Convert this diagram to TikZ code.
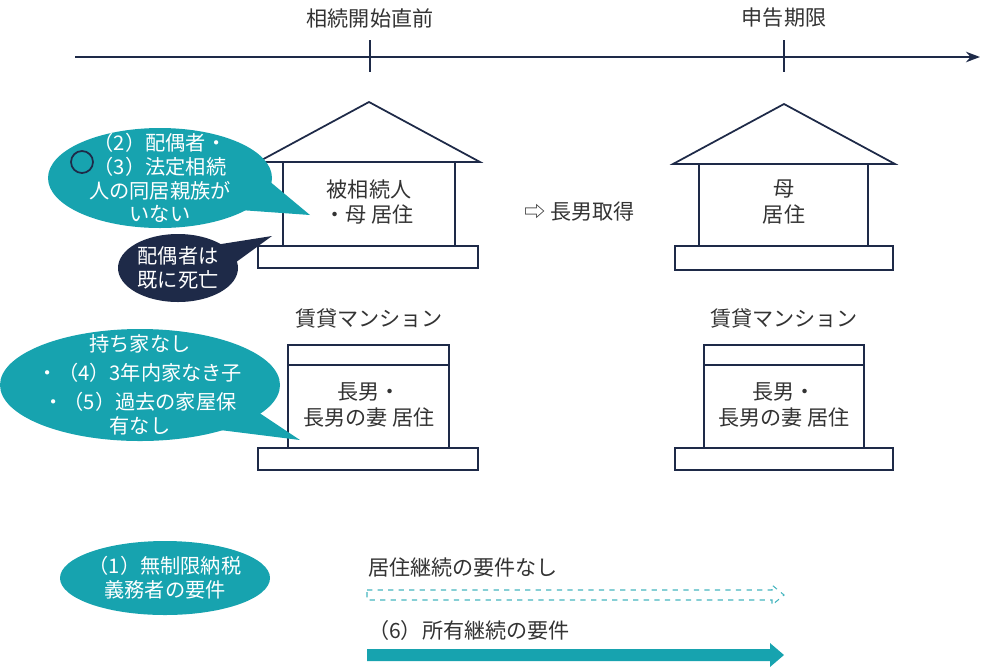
\documentclass[tikz,border=0pt]{standalone}
\usepackage{fontspec}
\setmainfont{Noto Sans CJK JP}
\usepackage{xcolor}
\usetikzlibrary{positioning, arrows.meta, calc}
\definecolor{Navy}{HTML}{1E2A48}
\definecolor{Teal}{HTML}{17A3AF}
\tikzset{
    line/.style={draw=Navy, line width=1pt},
    lbl/.style={font=\fontsize{12}{14.5}\selectfont, text=black!80, align=center},
    note/.style={font=\fontsize{11.5}{13.5}\selectfont, text=white, align=center},
}
\begin{document}
\begin{tikzpicture}[x=0.02cm, y=-0.02cm]
            \useasboundingbox (0,0) rectangle (993,667);

            % time line
            \draw[line, -{Stealth[length=8pt]}] (75,57) -- (980,57);
            \draw[line] (370,40) -- (370,72);
            \draw[line] (784,40) -- (784,72);
            \node[lbl] (start) at (370,18) {相続開始直前};
            \node[lbl] (limit) at (784,18) {申告期限};

            % houses
            \draw[line] (258,162) -- (369,102) -- (480,162) -- cycle;
            \draw[line] (283,162) rectangle (455,246);
            \draw[line] (258,246) rectangle (478,268);
            \node[lbl] (home1) at (369,202) {被相続人\\・母 居住};

            \draw[line] (673,164) -- (784,104) -- (895,164) -- cycle;
            \draw[line] (699,164) rectangle (868,246);
            \draw[line] (675,246) rectangle (893,270);
            \node[lbl] (home2) at (784,202) {母\\居住};

            \node[lbl] (get) at (580,212) {⇨ 長男取得};

            % rented flats
            \foreach \cx/\lx/\rx/\bl/\br in {369/288/449/258/478, 784/704/864/675/893}
            {
                \node[lbl] at (\cx,318) {賃貸マンション};
                \draw[line] (\lx,345) rectangle (\rx,365);
                \draw[line] (\lx,365) rectangle (\rx,448);
                \draw[line] (\bl,448) rectangle (\br,470);
                \node[lbl] at (\cx,405) {長男・\\長男の妻 居住};
            }

            % callouts
            \fill[Teal] (160,178) ellipse (112 and 50);
            \fill[Teal] (220,140) -- (310,215) -- (240,210) -- cycle;
            \node[note] (n23) at (160,178) {（2）配偶者・\\（3）法定相続\\人の同居親族が\\いない};
            \draw[Navy, line width=1pt] (82,162) circle (11);

            \fill[Navy] (178,268) ellipse (60 and 34);
            \fill[Navy] (215,245) -- (272,236) -- (228,268) -- cycle;
            \node[note] (dead) at (178,268) {配偶者は\\既に死亡};

            \fill[Teal] (140,385) ellipse (140 and 56);
            \fill[Teal] (240,400) -- (300,440) -- (220,430) -- cycle;
            \node[note, align=center] (n45) at (140,385)
                {持ち家なし\\[3pt]・（4）3年内家なき子\\[3pt]・（5）過去の家屋保\\有なし};

            \fill[Teal] (165,578) ellipse (105 and 37);
            \node[note] (n1) at (165,578) {（1）無制限納税\\義務者の要件};

            % requirement arrows
            \node[lbl, anchor=west] (live) at (362,567) {居住継続の要件なし};
            \draw[Teal!80, dashed, line width=0.6pt]
                (367,590) -- (772,590) -- (772,585) -- (784,595) -- (772,605) -- (772,600) -- (367,600) -- cycle;
            \node[lbl, anchor=west] (own) at (362,630) {（6）所有継続の要件};
            \fill[Teal] (367,649) -- (770,649) -- (770,643) -- (784,655) -- (770,667) -- (770,661) -- (367,661) -- cycle;
\end{tikzpicture}
\end{document}
